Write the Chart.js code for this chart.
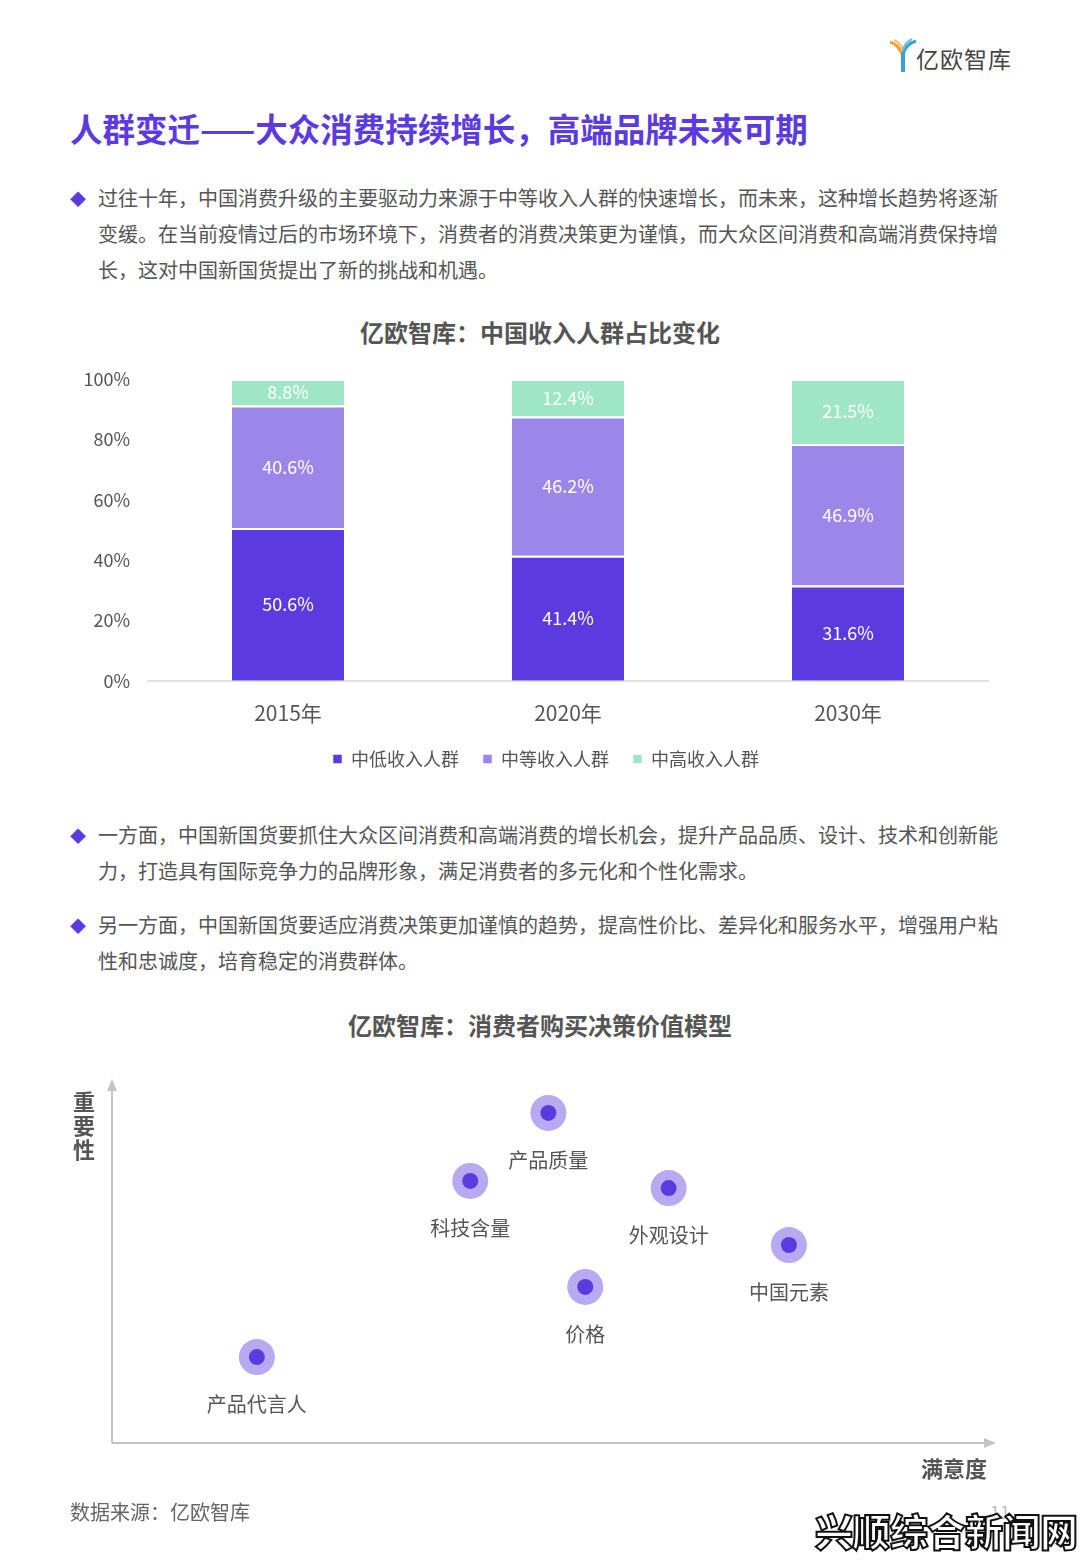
<!DOCTYPE html>
<html>
<head>
<meta charset="utf-8">
<script src="https://cdn.jsdelivr.net/npm/chart.js@4.4.1/dist/chart.umd.min.js"></script>
<style>
  body { margin: 0; background: #fff; }
  #page { position: relative; width: 1080px; height: 1560px; overflow: hidden; font-family: "Noto Sans CJK SC", "Noto Sans", sans-serif; color: #555; }
  .abs { position: absolute; white-space: nowrap; }
  .logo { left: 888px; top: 38px; }
  .logo-text { left: 916px; top: 41px; font-size: 23px; color: #444; letter-spacing: 1px; }
  .title { left: 70px; top: 104px; font-size: 32.5px; font-weight: 700; color: #5b3be0; }
  .para { left: 98px; font-size: 20px; line-height: 36px; color: #555; }
  .dia { left: 70px; font-size: 16px; color: #5b3be0; }
  .ctitle { left: 0; width: 1080px; text-align: center; font-size: 24px; font-weight: 700; color: #555; }
  .axname { font-size: 22px; font-weight: 700; color: #555; }
  .source { left: 70px; top: 1497px; font-size: 20px; color: #666; }
  .pageno { left: 990px; top: 1498px; font-size: 18px; color: #bbb; }
  .mark { left: 815px; top: 1502px; font-size: 38px; font-weight: 900; color: #fff; -webkit-text-stroke: 2px #111; letter-spacing: -0.5px; }
  canvas { position: absolute; }
</style>
</head>
<body>
<div id="page">
  <svg class="abs logo" width="30" height="36" viewBox="0 0 30 36">
    <path d="M2 4 Q10 6 14 16" stroke="#f0a040" stroke-width="3" fill="none"/>
    <path d="M6 2 Q13 5 16 14" stroke="#f7c060" stroke-width="2" fill="none"/>
    <path d="M28 3 Q18 6 15 16" stroke="#3aa0d8" stroke-width="3" fill="none"/>
    <path d="M24 1 Q17 4 15 12" stroke="#6cc0e8" stroke-width="2" fill="none"/>
    <path d="M15 15 L15 34" stroke="#3aa0d8" stroke-width="4" fill="none"/>
  </svg>
  <div class="abs logo-text">亿欧智库</div>

  <div class="abs title">人群变迁——大众消费持续增长，高端品牌未来可期</div>

  <div class="abs dia" style="top:186px">◆</div>
  <div class="abs para" style="top:180px">过往十年，中国消费升级的主要驱动力来源于中等收入人群的快速增长，而未来，这种增长趋势将逐渐<br>变缓。在当前疫情过后的市场环境下，消费者的消费决策更为谨慎，而大众区间消费和高端消费保持增<br>长，这对中国新国货提出了新的挑战和机遇。</div>

  <div class="abs ctitle" style="top:314px">亿欧智库：中国收入人群占比变化</div>
  <canvas id="incomeChart" width="940" height="430" style="left:60px; top:360px"></canvas>

  <div class="abs dia" style="top:823px">◆</div>
  <div class="abs para" style="top:817px">一方面，中国新国货要抓住大众区间消费和高端消费的增长机会，提升产品品质、设计、技术和创新能<br>力，打造具有国际竞争力的品牌形象，满足消费者的多元化和个性化需求。</div>

  <div class="abs dia" style="top:913px">◆</div>
  <div class="abs para" style="top:907px">另一方面，中国新国货要适应消费决策更加谨慎的趋势，提高性价比、差异化和服务水平，增强用户粘<br>性和忠诚度，培育稳定的消费群体。</div>

  <div class="abs ctitle" style="top:1007px">亿欧智库：消费者购买决策价值模型</div>
  <canvas id="valueChart" width="1080" height="440" style="left:0; top:1060px"></canvas>
  <div class="abs axname" style="left:73px; top:1088px; line-height:24px; white-space:normal; width:24px">重要性</div>
  <div class="abs axname" style="left:921px; top:1451px">满意度</div>

  <div class="abs source">数据来源：亿欧智库</div>
  <div class="abs pageno">11</div>
  <div class="abs mark">兴顺综合新闻网</div>
</div>

<script>
// chart 1: income groups share
var years = ['2015年', '2020年', '2030年'];
var groupNames = ['中低收入人群', '中等收入人群', '中高收入人群'];
var lowIncome = [50.6, 41.4, 31.6];
var midIncome = [40.6, 46.2, 46.9];
var highIncome = [8.8, 12.4, 21.5];
var yTicks = [0, 20, 40, 60, 80, 100];

// chart 2: purchase decision value model
var factorNames = ['产品质量', '科技含量', '外观设计', '中国元素', '价格', '产品代言人'];
var satisfaction = [49.7, 40.8, 63.4, 77.1, 53.9, 16.5];
var importance = [92.2, 73.2, 71.2, 55.3, 43.6, 24.0];

var fontFamily = '"Noto Sans CJK SC", "Noto Sans", sans-serif';
Chart.defaults.font.family = fontFamily;
Chart.defaults.color = '#555';

var segmentLabels = {
    id: 'segmentLabels',
    afterDatasetsDraw: function (chart) {
        var ctx = chart.ctx;
        ctx.save();
        ctx.fillStyle = '#fff';
        ctx.font = '18px ' + fontFamily;
        ctx.textAlign = 'center';
        ctx.textBaseline = 'middle';
        chart.data.datasets.forEach(function (ds, i) {
            chart.getDatasetMeta(i).data.forEach(function (bar, j) {
                var mid = (bar.y + bar.base) / 2;
                ctx.fillText(ds.data[j].toFixed(1) + '%', bar.x, mid);
            });
        });
        ctx.restore();
    }
};

// legend in the source sits a bit right of the canvas centre
var legendShift = {
    id: 'legendShift',
    afterLayout: function (chart) {
        chart.legend.left += 22;
        chart.legend.right += 22;
    }
};

new Chart(document.getElementById('incomeChart').getContext('2d'), {
    type: 'bar',
    data: {
        labels: years,
        datasets: [
            { label: groupNames[0], data: lowIncome, backgroundColor: '#5b3be0' },
            { label: groupNames[1], data: midIncome, backgroundColor: '#9b87ea' },
            { label: groupNames[2], data: highIncome, backgroundColor: '#9ee6c6' }
        ]
    },
    options: {
        responsive: false,
        animation: false,
        layout: { padding: { top: 19, right: 12, bottom: 12, left: 0 } },
        datasets: {
            bar: {
                barPercentage: 0.8,
                categoryPercentage: 0.5,
                borderColor: '#fff',
                borderWidth: { top: 2 },
                borderSkipped: false
            }
        },
        plugins: {
            legend: {
                position: 'bottom',
                labels: {
                    boxWidth: 9,
                    boxHeight: 9,
                    padding: 24,
                    color: '#555',
                    font: { size: 18 }
                }
            },
            tooltip: { enabled: false }
        },
        scales: {
            x: {
                stacked: true,
                grid: { display: false, drawTicks: true, tickLength: 20 },
                border: { display: true, color: '#e2e2e2', width: 2 },
                ticks: { font: { size: 21 }, color: '#555', padding: 0 }
            },
            y: {
                stacked: true,
                min: 0,
                max: 100,
                grid: { display: false, drawTicks: true, tickLength: 18 },
                border: { display: false },
                afterFit: function (scale) { scale.width = 88; },
                afterBuildTicks: function (scale) {
                    scale.ticks = yTicks.map(function (v) { return { value: v }; });
                },
                ticks: {
                    font: { size: 18 },
                    color: '#555',
                    padding: 0,
                    callback: function (v) { return v + '%'; }
                }
            }
        }
    },
    plugins: [segmentLabels, legendShift]
});

var arrowAxes = {
    id: 'arrowAxes',
    beforeDatasetsDraw: function (chart) {
        var a = chart.chartArea;
        var ctx = chart.ctx;
        ctx.save();
        ctx.strokeStyle = '#c4c4c4';
        ctx.fillStyle = '#c4c4c4';
        ctx.lineWidth = 2;
        ctx.beginPath();
        ctx.moveTo(a.left, a.bottom);
        ctx.lineTo(a.left, a.top + 4);
        ctx.moveTo(a.left, a.bottom);
        ctx.lineTo(a.right - 4, a.bottom);
        ctx.stroke();
        ctx.beginPath();
        ctx.moveTo(a.left, a.top - 6);
        ctx.lineTo(a.left - 5, a.top + 6);
        ctx.lineTo(a.left + 5, a.top + 6);
        ctx.closePath();
        ctx.fill();
        ctx.beginPath();
        ctx.moveTo(a.right + 6, a.bottom);
        ctx.lineTo(a.right - 6, a.bottom - 5);
        ctx.lineTo(a.right - 6, a.bottom + 5);
        ctx.closePath();
        ctx.fill();
        ctx.restore();
    }
};

var pointNames = {
    id: 'pointNames',
    afterDatasetsDraw: function (chart) {
        var ctx = chart.ctx;
        ctx.save();
        ctx.fillStyle = '#555';
        ctx.font = '20px ' + fontFamily;
        ctx.textAlign = 'center';
        ctx.textBaseline = 'middle';
        chart.getDatasetMeta(0).data.forEach(function (pt, i) {
            ctx.fillText(factorNames[i], pt.x, pt.y + 47);
        });
        ctx.restore();
    }
};

var factorPoints = satisfaction.map(function (x, i) { return { x: x, y: importance[i] }; });

new Chart(document.getElementById('valueChart').getContext('2d'), {
    type: 'scatter',
    data: {
        datasets: [
            // inner dot first: chart.js paints dataset 0 last (on top)
            { data: factorPoints, pointRadius: 8, pointBackgroundColor: '#5b3be0', pointBorderWidth: 0 },
            { data: factorPoints, pointRadius: 18, pointBackgroundColor: '#b8aaf0', pointBorderWidth: 0 }
        ]
    },
    options: {
        responsive: false,
        animation: false,
        layout: { padding: { top: 25, right: 90, bottom: 57, left: 112 } },
        plugins: { legend: { display: false }, tooltip: { enabled: false } },
        scales: {
            x: { display: false, min: 0, max: 100 },
            y: { display: false, min: 0, max: 100 }
        }
    },
    plugins: [arrowAxes, pointNames]
});
</script>
</body>
</html>
